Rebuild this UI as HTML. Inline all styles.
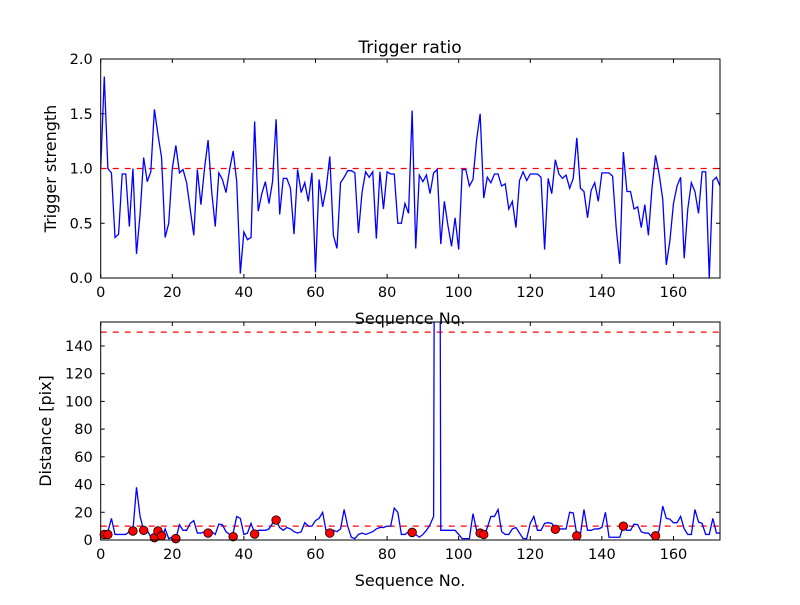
<!DOCTYPE html>
<html><head><meta charset="utf-8"><style>
body{margin:0;background:#fff;}
svg text{font-family:"DejaVu Sans","Liberation Sans",sans-serif;fill:#000;}
</style></head><body>
<svg id="fig" width="800" height="600" xmlns="http://www.w3.org/2000/svg">
<rect width="800" height="600" fill="#fff"/>
<text x="410" y="53" font-size="17" text-anchor="middle">Trigger ratio</text>
<g id="top"></g>
<g id="bot"></g>
</svg>
<script>
const strength = [1.0,1.84,1.0,0.96,0.37,0.40,0.95,0.95,0.47,1.0,0.22,0.58,1.10,0.88,0.97,1.54,1.31,1.10,0.37,0.50,1.0,1.21,0.96,0.99,0.87,0.63,0.39,0.99,0.67,1.0,1.26,0.79,0.47,0.96,0.90,0.78,0.99,1.16,0.88,0.04,0.42,0.35,0.37,1.43,0.61,0.77,0.88,0.68,0.88,1.45,0.58,0.91,0.91,0.82,0.40,0.99,0.78,0.87,0.70,0.96,0.05,0.90,0.65,0.82,1.11,0.39,0.27,0.87,0.92,0.98,0.98,0.96,0.41,0.78,0.97,0.92,0.97,0.36,0.97,0.63,0.97,0.95,0.95,0.50,0.50,0.68,0.59,1.53,0.27,0.94,0.88,0.94,0.77,0.96,0.99,0.31,0.70,0.48,0.29,0.55,0.26,0.99,0.99,0.84,0.90,1.26,1.50,0.73,0.92,0.87,0.95,0.95,0.84,0.86,0.63,0.70,0.46,0.89,0.97,0.89,0.95,0.95,0.95,0.92,0.26,0.91,0.77,1.08,0.95,0.91,0.94,0.82,0.91,1.28,0.82,0.79,0.55,0.80,0.87,0.70,0.96,0.96,0.96,0.93,0.46,0.13,1.15,0.79,0.79,0.63,0.65,0.46,0.67,0.39,0.82,1.12,0.95,0.72,0.12,0.34,0.68,0.84,0.92,0.18,0.63,0.87,0.79,0.59,0.97,0.97,0.0,0.89,0.92,0.84];
const distance = [4,4,6,15.6,4,4,4,4,6,7,38,17,7,7,2,1,7,1,8,1,2,1,11,7,7,12,14,5,5,6,7,6,4,11.5,11,6,4,5,17,15.6,4,5,12,5,7,7,7,8,12,14,9,7,9,8,6,5,6,12.5,10,10,14,15.6,20,6,6,7,6,8,22,10,2,1,4,5,4,5,6,8,9,9,10,10,23,20,4,4,6,7,4,2,4,7,11,17,1000,7,7,7,7,7,4,1,1,1,19,7,4,2,9,17,17,22,6,4,4,8,9,5,1,1,12,17,7,7,12,12.5,12,8,8,8,8,20,19.5,4,4,22,7,7,8,8,9,20,2,2,2,2,10,7,7,11.5,11,6,5,5,2,2,7,24.5,15.6,15,12.5,12.5,17,8,4,4,22,13,12,4,4,15.6,5,5];
const dotIdx = [1,2,9,12,15,16,17,21,30,37,43,49,64,87,106,107,127,133,146,155];
const dotVal = [4,4,6.5,7,1.7,6.5,3,1,5,2.4,4.3,14.4,5,5.5,5,4,7.7,3,10,3];
const xTicks = [0,20,40,60,80,100,120,140,160];
const topYTicks = ["0.0","0.5","1.0","1.5","2.0"];
const botYTicks = [0,20,40,60,80,100,120,140];
const topRef = 1.0, botRefs = [10,150];

const NS="http://www.w3.org/2000/svg";
function mk(tag,attrs,parent){const e=document.createElementNS(NS,tag);for(const k in attrs)e.setAttribute(k,attrs[k]);parent.appendChild(e);return e;}
const L=100.7,R=720,XMAX=173;
const sx=v=>L+(v/XMAX)*(R-L);

function axes(g,T,B,ymax,yTicks,yLab,prefix,clipId){
  const sy=v=>B-(v/ymax)*(B-T);
  const defs=mk('defs',{},g);
  const cp=mk('clipPath',{id:clipId},defs);
  mk('rect',{x:L,y:T,width:R-L,height:B-T},cp);
  xTicks.forEach(t=>{
    const x=sx(t);
    const a=mk('line',{x1:x,x2:x,y1:B,y2:B-4,stroke:'#000','stroke-width':1},g);
    
    mk('line',{x1:x,x2:x,y1:T,y2:T+4,stroke:'#000','stroke-width':1},g);
    const tx=mk('text',{x:x,y:B+19,'font-size':14.5,'text-anchor':'middle'},g);
    tx.textContent=t;
    
  });
  yTicks.forEach(t=>{
    const v=parseFloat(t),y=sy(v);
    mk('line',{x1:L,x2:L+4,y1:y,y2:y,stroke:'#000','stroke-width':1},g);
    mk('line',{x1:R,x2:R-4,y1:y,y2:y,stroke:'#000','stroke-width':1},g);
    const tx=mk('text',{x:L-8,y:y+5,'font-size':14.5,'text-anchor':'end'},g);
    tx.textContent=t;
    
  });
  const xl=mk('text',{x:410,y:B+46,'font-size':16,'text-anchor':'middle'},g);
  xl.textContent='Sequence No.';
  
  const cy=(T+B)/2;
  const yl=mk('text',{x:0,y:0,'font-size':16,'text-anchor':'middle',transform:`translate(${prefix==='top'?56:51},${cy}) rotate(-90)`},g);
  yl.textContent=yLab;
  
  return sy;
}

// top
const gt=document.getElementById('top');
const T1=59,B1=278;
const sy1=axes(gt,T1,B1,2.0,topYTicks,'Trigger strength','top','c1');
const rl=mk('line',{x1:L,x2:R,y1:sy1(topRef),y2:sy1(topRef),stroke:'#f00','stroke-width':1.2,'stroke-dasharray':'6,6','clip-path':'url(#c1)'},gt);

const p1=mk('polyline',{points:strength.map((v,i)=>sx(i)+','+sy1(v)).join(' '),fill:'none',stroke:'#00f','stroke-width':1.3,'clip-path':'url(#c1)'},gt);

mk('rect',{x:L,y:T1,width:R-L,height:B1-T1,fill:'none',stroke:'#000','stroke-width':1},gt);

// bottom
const gb=document.getElementById('bot');
const T2=322,B2=540;
const sy2=axes(gb,T2,B2,157.3,botYTicks,'Distance [pix]','bottom','c2');
botRefs.forEach(r=>{
  const l=mk('line',{x1:L,x2:R,y1:sy2(r),y2:sy2(r),stroke:'#f00','stroke-width':1.2,'stroke-dasharray':'6,6','clip-path':'url(#c2)'},gb);
  
});
const p2=mk('polyline',{points:distance.map((v,i)=>sx(i)+','+sy2(v)).join(' '),fill:'none',stroke:'#00f','stroke-width':1.3,'clip-path':'url(#c2)'},gb);

dotIdx.forEach((ix,k)=>{
  const c=mk('circle',{cx:sx(ix),cy:sy2(dotVal[k]),r:4.3,fill:'#f00',stroke:'#000','stroke-width':0.8},gb);
  
});
mk('rect',{x:L,y:T2,width:R-L,height:B2-T2,fill:'none',stroke:'#000','stroke-width':1},gb);
</script>
</body></html>
